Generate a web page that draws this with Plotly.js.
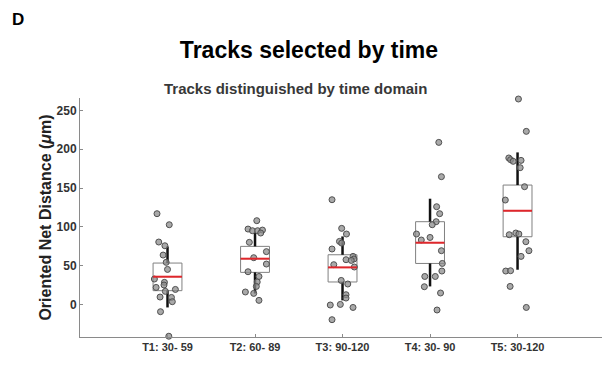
<!DOCTYPE html>
<html><head><meta charset="utf-8">
<script src="https://cdn.plot.ly/plotly-3.0.1.min.js"></script>
<style>html,body{margin:0;padding:0;background:#fff;overflow:hidden}#chart{width:605px;height:370px}</style>
</head><body><div id="chart"></div>
<script>
// Categories / tick labels
const categories = ["T1: 30- 59", "T2: 60- 89", "T3: 90-120", "T4: 30- 90", "T5: 30-120"];
const categoryPos = [1, 2, 3, 4, 5];

// Individual track values (µm)
const t1Values = [116.9, 102.7, 80.4, 75.6, 63.6, 54.2, 45.1, 32.7, 21.9, 28.4, 25, 16.8, 19.3, 9.5, 9, 3.5, -9.4, -41];
const t1Jitter = [-0.12, 0.02, -0.10, -0.03, -0.05, -0.015, 0, -0.15, -0.13, -0.035, -0.04, -0.025, 0.09, -0.085, 0.045, 0.055, -0.08, 0.015];
const t2Values = [107.9, 97.1, 95, 95, 95.8, 92, 80, 68, 60.2, 52, 42.1, 36, 28.9, 23.2, 16, 14.2, 5.2];
const t2Jitter = [0.02, -0.08, -0.03, 0.03, 0.085, 0.065, -0.065, 0.13, -0.015, 0.13, -0.08, 0.045, 0.025, 0.015, -0.11, -0.015, 0.045];
const t3Values = [134.9, 98, 90.7, 81.2, 79, 71.4, 57.6, 61.9, 58.5, 56.7, 51.2, 48.2, 30.9, 26.3, 12.5, 8.2, -0.8, 0, -3.9, -19.7];
const t3Jitter = [-0.12, -0.01, 0.045, -0.035, -0.01, -0.12, 0.04, 0.12, 0.13, 0.10, -0.10, 0.135, -0.015, 0.06, 0.04, 0.04, -0.14, -0.025, 0.12, -0.12];
const t4Values = [208.8, 164.6, 125.9, 116.9, 106.6, 102.7, 90.7, 83, 86.3, 69.2, 52.8, 43, 36, 36, 22.8, 14.7, -7.2];
const t4Jitter = [0.10, 0.13, 0.075, 0.11, 0.07, 0.025, -0.155, -0.10, 0, 0.13, 0.14, 0.135, -0.06, 0.06, -0.065, 0.12, 0.08];
const t5Values = [264.7, 223, 188.7, 186.5, 184.4, 185.6, 176.2, 151.7, 134.5, 89.8, 92, 90.7, 80.8, 69.2, 61.9, 43, 43.4, 23.2, -3.9];
const t5Jitter = [0.01, 0.10, -0.10, -0.08, -0.05, 0.04, 0.03, 0.08, -0.14, -0.095, -0.02, 0.015, 0.095, 0.13, 0.04, -0.135, -0.08, -0.085, 0.10];

// Box statistics per group
const q1 = [17.7, 41.3, 28.9, 52.8, 87.2];
const medians = [35.7, 58.9, 47.7, 79.5, 120.7];
const q3 = [53.3, 74.8, 64, 106.6, 153.8];
const lowerWhisker = [-3.9, 14, 5.2, 23.2, 44.7];
const upperWhisker = [74.7, 92, 87.6, 136.2, 195.9];

const groups = [[t1Values, t1Jitter], [t2Values, t2Jitter], [t3Values, t3Jitter], [t4Values, t4Jitter], [t5Values, t5Jitter]];
const boxWidth = 0.33;

const traces = [];
traces.push({
  type: 'box', x: categoryPos, q1: q1, median: medians, q3: q3,
  lowerfence: q1, upperfence: q3, width: boxWidth, whiskerwidth: 0,
  fillcolor: 'rgba(255,255,255,0)', line: {color: '#808080', width: 1},
  boxpoints: false, hoverinfo: 'skip', showlegend: false
});
// whiskers
const wx = [], wy = [];
categoryPos.forEach((p, i) => {
  wx.push(p, p, null, p, p, null);
  wy.push(q3[i], upperWhisker[i], null, lowerWhisker[i], q1[i], null);
});
traces.push({type: 'scatter', mode: 'lines', x: wx, y: wy, line: {color: '#111', width: 2.5}, showlegend: false, hoverinfo: 'skip'});
// points
groups.forEach((g, i) => {
  traces.push({
    type: 'scatter', mode: 'markers',
    x: g[1].map(j => categoryPos[i] + j), y: g[0],
    marker: {size: 6, color: 'rgba(140,140,140,0.75)', line: {color: '#505050', width: 1}},
    showlegend: false, hoverinfo: 'y', cliponaxis: false
  });
});
// medians
const mx = [], my = [];
categoryPos.forEach((p, i) => {
  mx.push(p - boxWidth / 2, p + boxWidth / 2, null);
  my.push(medians[i], medians[i], null);
});
traces.push({type: 'scatter', mode: 'lines', x: mx, y: my, line: {color: '#e0262b', width: 2}, showlegend: false, hoverinfo: 'skip'});

const font = 'Liberation Sans, Arial, sans-serif';
const layout = {
  width: 605, height: 370,
  margin: {l: 80, r: 3, t: 98, b: 33},
  paper_bgcolor: '#fff', plot_bgcolor: '#fff',
  font: {family: font, color: '#222'},
  xaxis: {
    range: [0, 5.965], tickvals: categoryPos, ticktext: categories,
    showgrid: false, zeroline: false, showline: true, linecolor: '#8a8a8a', linewidth: 1,
    ticks: 'inside', ticklen: 3, tickcolor: '#8a8a8a',
    tickfont: {size: 11, family: font, weight: 'bold', color: '#333'}
  },
  yaxis: {
    range: [-42, 266], tickvals: [0, 50, 100, 150, 200, 250],
    showgrid: false, zeroline: false, showline: true, linecolor: '#8a8a8a', linewidth: 1,
    ticks: 'inside', ticklen: 3, tickcolor: '#8a8a8a',
    tickfont: {size: 12, family: font, weight: 'bold', color: '#333'},
    title: {text: 'Oriented Net Distance (<i>μ</i>m)', font: {size: 16, family: font, weight: 'bold', color: '#222'}, standoff: 0}
  },
  title: {text: '<b>Tracks selected by time</b>', font: {size: 23, family: font, color: '#000'}, x: 309 / 605, xanchor: 'center', y: 1 - 50 / 370, yanchor: 'middle'},
  annotations: [
    {text: '<b>D</b>', xref: 'paper', yref: 'paper', x: -70 / 522, y: 1 + (98 - 19) / 239, xanchor: 'left', yanchor: 'middle', showarrow: false, font: {size: 17, family: font, color: '#000'}},
    {text: '<b>Tracks distinguished by time domain</b>', xref: 'paper', yref: 'paper', x: (295 - 80) / 522, y: 1 + (98 - 89) / 239, xanchor: 'center', yanchor: 'middle', showarrow: false, font: {size: 15, family: font, color: '#383838'}}
  ]
};
Plotly.newPlot('chart', traces, layout, {displayModeBar: false, staticPlot: true});
</script>
</body></html>
